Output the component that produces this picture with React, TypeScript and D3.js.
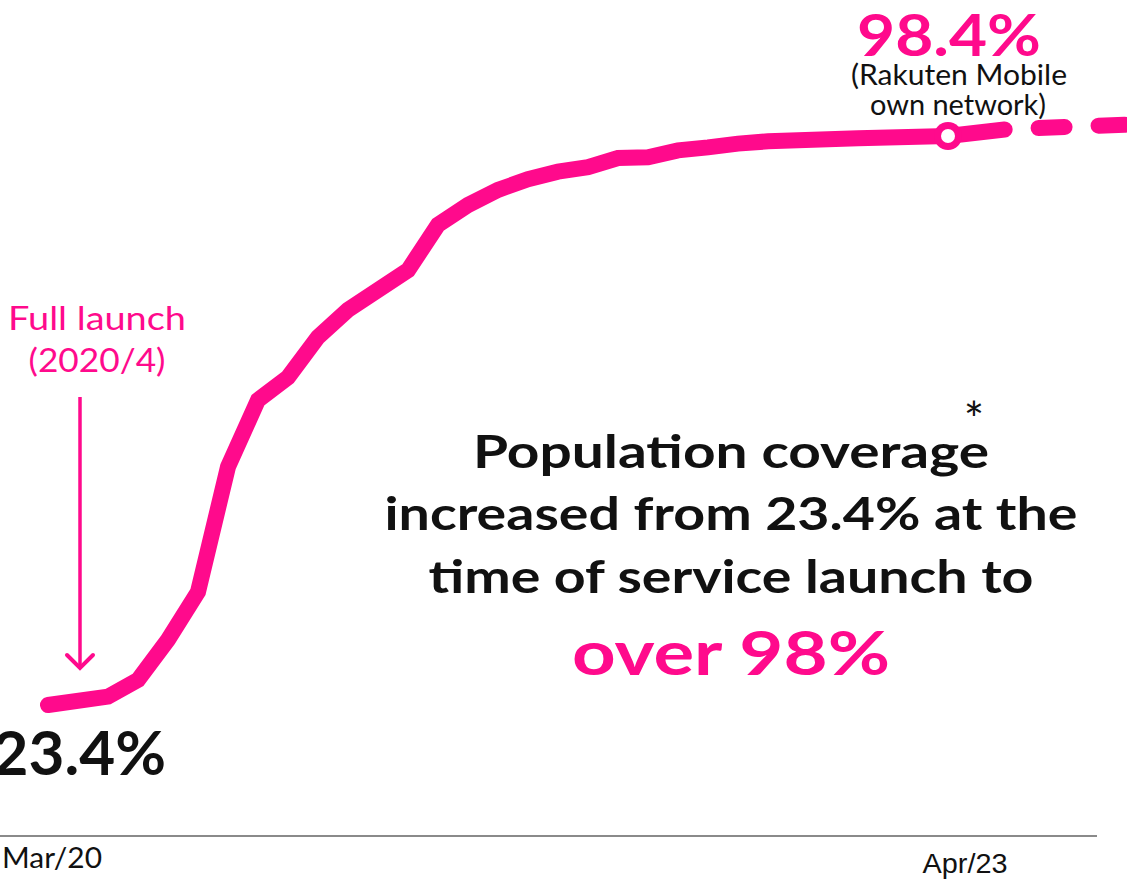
import React from "react";
import * as d3 from "d3";

// ---- data ----
const monthIdx = [0, 2, 3, 4, 5, 6, 7, 8, 9, 10, 12, 13, 14, 15, 16, 17, 18, 19, 20, 21, 22, 23, 24, 27, 30];
const coverage = [23.4, 24.5, 26.7, 32.0, 38.3, 54.8, 63.6, 66.6, 71.9, 75.5, 80.7, 86.7, 89.3, 91.3, 92.7, 93.7, 94.3, 95.5, 95.6, 96.5, 96.9, 97.4, 97.7, 98.1, 98.4];
const projIdx = [30, 32, 36];
const projCoverage = [98.4, 99.3, 99.9];
const tickIdx = [0, 30];
const tickLabels = ["Mar/20", "Apr/23"];
const startValueLabel = "23.4%";
const endValueLabel = "98.4%";
const headline = ["Population coverage", "increased from 23.4% at the", "time of service launch to"];
const headlineEmph = "over 98%";

const W = 1127;
const H = 879;
const PINK = "#ff0a8c";
const FONT = "Lato, 'Noto Sans', sans-serif";

export default function App() {
  const x = d3.scaleLinear().domain([0, 36]).range([48, 1128]);
  const y = d3.scaleLinear().domain([23.4, 98.4]).range([705, 136]);

  const actual = monthIdx.map((m, i) => [m, coverage[i]] as [number, number]);
  const proj = projIdx.map((m, i) => [m, projCoverage[i]] as [number, number]);
  const line = d3
    .line<[number, number]>()
    .x((d) => x(d[0]))
    .y((d) => y(d[1]));

  const endX = x(monthIdx[monthIdx.length - 1]);
  const endY = y(coverage[coverage.length - 1]);
  const startX = x(monthIdx[0]);

  return (
    <svg
      width={W}
      height={H}
      viewBox={`0 0 ${W} ${H}`}
      style={{ position: "absolute", left: 0, top: 0, overflow: "hidden", background: "#fff" }}
    >
      {/* axis */}
      <line x1={0} x2={1097} y1={836} y2={836} stroke="#8a8a8a" strokeWidth={2} />
      <text x={x(tickIdx[0]) + 4} y={868} textAnchor="middle" fontFamily={FONT} fontSize={28} fill="#111" textLength={100} lengthAdjust="spacingAndGlyphs">
        {tickLabels[0]}
      </text>
      <text x={x(tickIdx[1]) + 17} y={873} textAnchor="middle" fontFamily="'Liberation Sans', Arial, sans-serif" fontSize={27} fill="#111" textLength={85} lengthAdjust="spacingAndGlyphs">
        {tickLabels[1]}
      </text>

      {/* lines */}
      <path
        d={line(proj) || ""}
        fill="none"
        stroke={PINK}
        strokeWidth={16}
        strokeLinecap="round"
        strokeDasharray="57 34 26 34 26 34 26 34"
      />
      <path
        d={line(actual) || ""}
        fill="none"
        stroke={PINK}
        strokeWidth={16}
        strokeLinecap="round"
        strokeLinejoin="miter"
      />
      <circle cx={endX} cy={endY} r={14} fill={PINK} />
      <circle cx={endX} cy={endY} r={7} fill="#fff" />

      {/* end label */}
      <text x={endX + 1} y={56} textAnchor="middle" fontFamily={FONT} fontWeight={700} fontSize={58} fill={PINK} textLength={184} lengthAdjust="spacingAndGlyphs">
        {endValueLabel}
      </text>
      <text x={endX + 11} y={85} textAnchor="middle" fontFamily={FONT} fontSize={28} fill="#111" textLength={216} lengthAdjust="spacingAndGlyphs">
        (Rakuten Mobile
      </text>
      <text x={endX + 10} y={115} textAnchor="middle" fontFamily={FONT} fontSize={28} fill="#111" textLength={176} lengthAdjust="spacingAndGlyphs">
        own network)
      </text>

      {/* start label */}
      <text x={166} y={775} textAnchor="end" fontFamily={FONT} fontWeight={700} fontSize={62} fill="#111">
        {startValueLabel}
      </text>

      {/* launch annotation */}
      <text x={97} y={330} textAnchor="middle" fontFamily={FONT} fontSize={33} fill={PINK} textLength={178} lengthAdjust="spacingAndGlyphs">
        Full launch
      </text>
      <text x={97} y={372} textAnchor="middle" fontFamily={FONT} fontSize={33} fill={PINK} textLength={137} lengthAdjust="spacingAndGlyphs">
        (2020/4)
      </text>
      <line x1={startX + 32} x2={startX + 32} y1={397} y2={667} stroke={PINK} strokeWidth={3.5} />
      <path
        d={`M${startX + 19},${655} L${startX + 32},${668} L${startX + 45},${655}`}
        fill="none"
        stroke={PINK}
        strokeWidth={4}
        strokeLinecap="round"
        strokeLinejoin="miter"
      />

      {/* headline */}
      <text x={731} y={468} textAnchor="middle" fontFamily={FONT} fontWeight={700} fontSize={46} fill="#111" textLength={516} lengthAdjust="spacingAndGlyphs">
        {headline[0]}
      </text>
      <text x={974} y={437} textAnchor="middle" fontFamily={FONT} fontWeight={400} fontSize={48} fill="#111">
        *
      </text>
      <text x={731} y={530} textAnchor="middle" fontFamily={FONT} fontWeight={700} fontSize={46} fill="#111" textLength={693} lengthAdjust="spacingAndGlyphs">
        {headline[1]}
      </text>
      <text x={731} y={593} textAnchor="middle" fontFamily={FONT} fontWeight={700} fontSize={46} fill="#111" textLength={605} lengthAdjust="spacingAndGlyphs">
        {headline[2]}
      </text>
      <text x={731} y={675} textAnchor="middle" fontFamily={FONT} fontWeight={700} fontSize={62} fill={PINK} textLength={318} lengthAdjust="spacingAndGlyphs">
        {headlineEmph}
      </text>
    </svg>
  );
}
